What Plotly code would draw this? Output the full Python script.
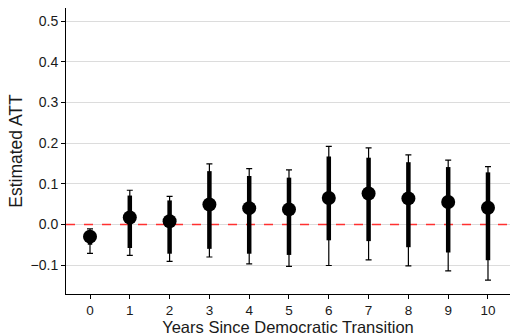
import plotly.graph_objects as go

years = [0, 1, 2, 3, 4, 5, 6, 7, 8, 9, 10]
estimate = [-0.030, 0.017, 0.008, 0.049, 0.040, 0.037, 0.065, 0.076, 0.064, 0.055, 0.041]
ci90_low = [-0.050, -0.058, -0.072, -0.060, -0.072, -0.075, -0.039, -0.041, -0.056, -0.069, -0.088]
ci90_high = [-0.015, 0.071, 0.059, 0.131, 0.119, 0.115, 0.167, 0.164, 0.153, 0.141, 0.128]
ci95_low = [-0.071, -0.076, -0.091, -0.080, -0.097, -0.103, -0.101, -0.087, -0.102, -0.114, -0.137]
ci95_high = [-0.011, 0.084, 0.069, 0.149, 0.137, 0.134, 0.192, 0.188, 0.171, 0.158, 0.142]

y_ticks = [-0.1, 0.0, 0.1, 0.2, 0.3, 0.4, 0.5]
y_ticklabels = ["\u22120.1", "0.0", "0.1", "0.2", "0.3", "0.4", "0.5"]
x_range = [-0.603, 10.553]
reference_value = 0.0

fig = go.Figure()

fig.add_trace(go.Scatter(
    x=x_range, y=[reference_value, reference_value], mode="lines",
    line=dict(color="#FF3030", width=1.6, dash="dash"),
    showlegend=False, hoverinfo="skip",
))

fig.add_trace(go.Scatter(
    x=years, y=estimate, mode="markers",
    marker=dict(size=1, color="rgba(0,0,0,0)"),
    error_y=dict(type="data", symmetric=False,
                 array=[h - e for h, e in zip(ci95_high, estimate)],
                 arrayminus=[e - l for e, l in zip(estimate, ci95_low)],
                 thickness=1.2, width=3, color="black"),
    showlegend=False, hoverinfo="skip",
))

fig.add_trace(go.Scatter(
    x=years, y=estimate, mode="markers",
    marker=dict(size=14, color="black"),
    error_y=dict(type="data", symmetric=False,
                 array=[h - e for h, e in zip(ci90_high, estimate)],
                 arrayminus=[e - l for e, l in zip(estimate, ci90_low)],
                 thickness=4.5, width=0, color="black"),
    showlegend=False,
))

fig.update_layout(
    width=510, height=336,
    margin=dict(l=66, r=0, t=8, b=40),
    paper_bgcolor="white", plot_bgcolor="white",
    font=dict(family="Liberation Sans, Arial, sans-serif", size=14, color="#1a1a1a"),
    xaxis=dict(
        range=x_range, tickmode="array", tickvals=years,
        ticktext=[str(y) for y in years],
        showgrid=False, zeroline=False,
        showline=True, linecolor="black", linewidth=1,
        ticks="outside", ticklen=4, tickcolor="black",
        tickfont=dict(size=13.5),
        title=dict(text="Years Since Democratic Transition", font=dict(size=16.5), standoff=6),
    ),
    yaxis=dict(
        range=[-0.171, 0.532], tickmode="array", tickvals=y_ticks, ticktext=y_ticklabels,
        showgrid=True, gridcolor="#DCDCDC", gridwidth=1.2, zeroline=False,
        showline=True, linecolor="black", linewidth=1,
        ticks="outside", ticklen=4, tickcolor="black",
        tickfont=dict(size=14),
        title=dict(text="Estimated ATT", font=dict(size=17.5), standoff=3),
    ),
)

fig.write_html("out.html", config={"displayModeBar": False},
               post_script="document.body.style.margin='0';")
